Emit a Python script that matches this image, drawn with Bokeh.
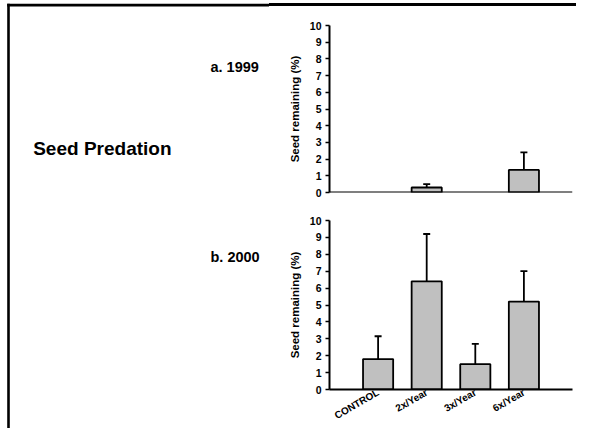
from math import pi
from bokeh.plotting import figure
from bokeh.layouts import column, row
from bokeh.models import FactorRange, Range1d, FixedTicker, ColumnDataSource, Span, Div
from bokeh.core.properties import value
from bokeh.embed import file_html
from bokeh.resources import INLINE

# ---- data ----
categories = ["CONTROL", "2x/Year", "3x/Year", "6x/Year"]
y_ticks = [0, 1, 2, 3, 4, 5, 6, 7, 8, 9, 10]
mean_1999 = [0.0, 0.3, 0.0, 1.35]
se_1999 = [0.0, 0.2, 0.0, 1.05]
mean_2000 = [1.8, 6.4, 1.5, 5.2]
se_2000 = [1.35, 2.8, 1.2, 1.8]
y_label = "Seed remaining (%)"
main_title = "Seed Predation"
panel_a = "a. 1999"
panel_b = "b. 2000"

FONT = "Liberation Sans"
TOTAL_W, TOTAL_H = 576, 428
LEFT_W = 269            # decoration column (titles, frame edge)
RIGHT_W = TOTAL_W - LEFT_W
STRIP_H = 6


def blank(width, height):
    p = figure(width=width, height=height, output_backend="svg", toolbar_location=None,
               x_range=Range1d(0, width), y_range=Range1d(height, 0),
               min_border=0, background_fill_color="white", border_fill_color="white")
    p.axis.visible = False
    p.grid.visible = False
    p.outline_line_color = None
    return p


def make_panel(mean, se, height, top_b, bottom_b, show_x_labels):
    p = figure(width=RIGHT_W, height=height, output_backend="svg", toolbar_location=None,
               x_range=FactorRange(factors=categories, range_padding=0.5,
                                   range_padding_units="absolute"),
               y_range=Range1d(0, 10),
               min_border_left=60, min_border_right=4,
               min_border_top=top_b, min_border_bottom=bottom_b,
               background_fill_color="white", border_fill_color="white")
    p.outline_line_color = None
    p.grid.visible = False

    bc, bv = [], []
    for c, m in zip(categories, mean):
        if m > 0:
            bc.append(c); bv.append(m)
    bars = ColumnDataSource(dict(cat=bc, val=bv))
    p.vbar(x="cat", top="val", width=0.62, source=bars,
           fill_color="#c0c0c0", line_color="black", line_width=1.8)

    ec, elo, ehi = [], [], []
    for c, m, s in zip(categories, mean, se):
        if m > 0:
            ec.append(c); elo.append(m); ehi.append(m + s)
    err = ColumnDataSource(dict(cat=ec, lo=elo, hi=ehi))
    p.segment(x0="cat", y0="lo", x1="cat", y1="hi", source=err,
              line_color="black", line_width=1.8)
    p.scatter(x="cat", y="hi", source=err, marker="dash", size=7,
              line_color="black", line_width=1.8)

    ya = p.yaxis[0]
    ya.ticker = FixedTicker(ticks=y_ticks)
    ya.minor_tick_line_color = None
    ya.major_tick_in = 0
    ya.major_tick_out = 4
    ya.major_tick_line_width = 1.5
    ya.axis_line_width = 2
    ya.axis_line_color = "black"
    ya.major_label_text_font = FONT
    ya.major_label_text_font_style = "bold"
    ya.major_label_text_font_size = "10.5px"
    ya.major_label_text_color = "black"
    ya.major_label_standoff = 4
    ya.axis_label = y_label
    ya.axis_label_text_font = FONT
    ya.axis_label_text_font_style = "bold"
    ya.axis_label_text_font_size = "11.5px"
    ya.axis_label_text_color = "black"
    ya.axis_label_standoff = 6

    if show_x_labels:
        xa = p.xaxis[0]
        xa.axis_line_width = 2
        xa.axis_line_color = "black"
        xa.major_tick_line_color = None
        xa.minor_tick_line_color = None
        xa.major_tick_in = 0
        xa.major_tick_out = 0
        xa.major_label_text_font = FONT
        xa.major_label_text_font_style = "bold"
        xa.major_label_text_font_size = "10px"
        xa.major_label_text_color = "black"
        xa.major_label_orientation = pi / 6
        xa.major_label_standoff = 2
    else:
        p.xaxis.visible = False
        p.add_layout(Span(location=0, dimension="width", line_color="black", line_width=2))
    return p


# left decoration column: frame edges and titles
deco = blank(LEFT_W, TOTAL_H)
deco.quad(left=[6.7], right=[9.3], top=[3.3], bottom=[TOTAL_H], fill_color="black", line_color=None)
deco.quad(left=[6.7], right=[LEFT_W], top=[3.3], bottom=[6.0], fill_color="black", line_color=None)
deco.text(x=[32.7], y=[148.3], text=[main_title], text_font=value(FONT), text_font_style="bold",
          text_font_size="19px", text_color="black", text_baseline="alphabetic", text_align="left")
deco.text(x=[210, 210], y=[66.7, 256.7], text=[panel_a, panel_b], text_font=value(FONT),
          text_font_style="bold", text_font_size="14.5px", text_color="black",
          text_baseline="alphabetic", text_align="left")

# strip carrying the top frame edge over the charts
strip = Div(text="", width=RIGHT_W, height=STRIP_H, margin=0,
            styles={"background": "linear-gradient(to bottom, white 0px, white 3.3px, black 3.3px, black 6px)"})

p1 = make_panel(mean_1999, se_1999, 200, 19, 14, False)
p2 = make_panel(mean_2000, se_2000, 222, 14, 39, True)

layout = row(deco, column(strip, p1, p2))
open("out.html", "w").write(file_html(layout, INLINE))
